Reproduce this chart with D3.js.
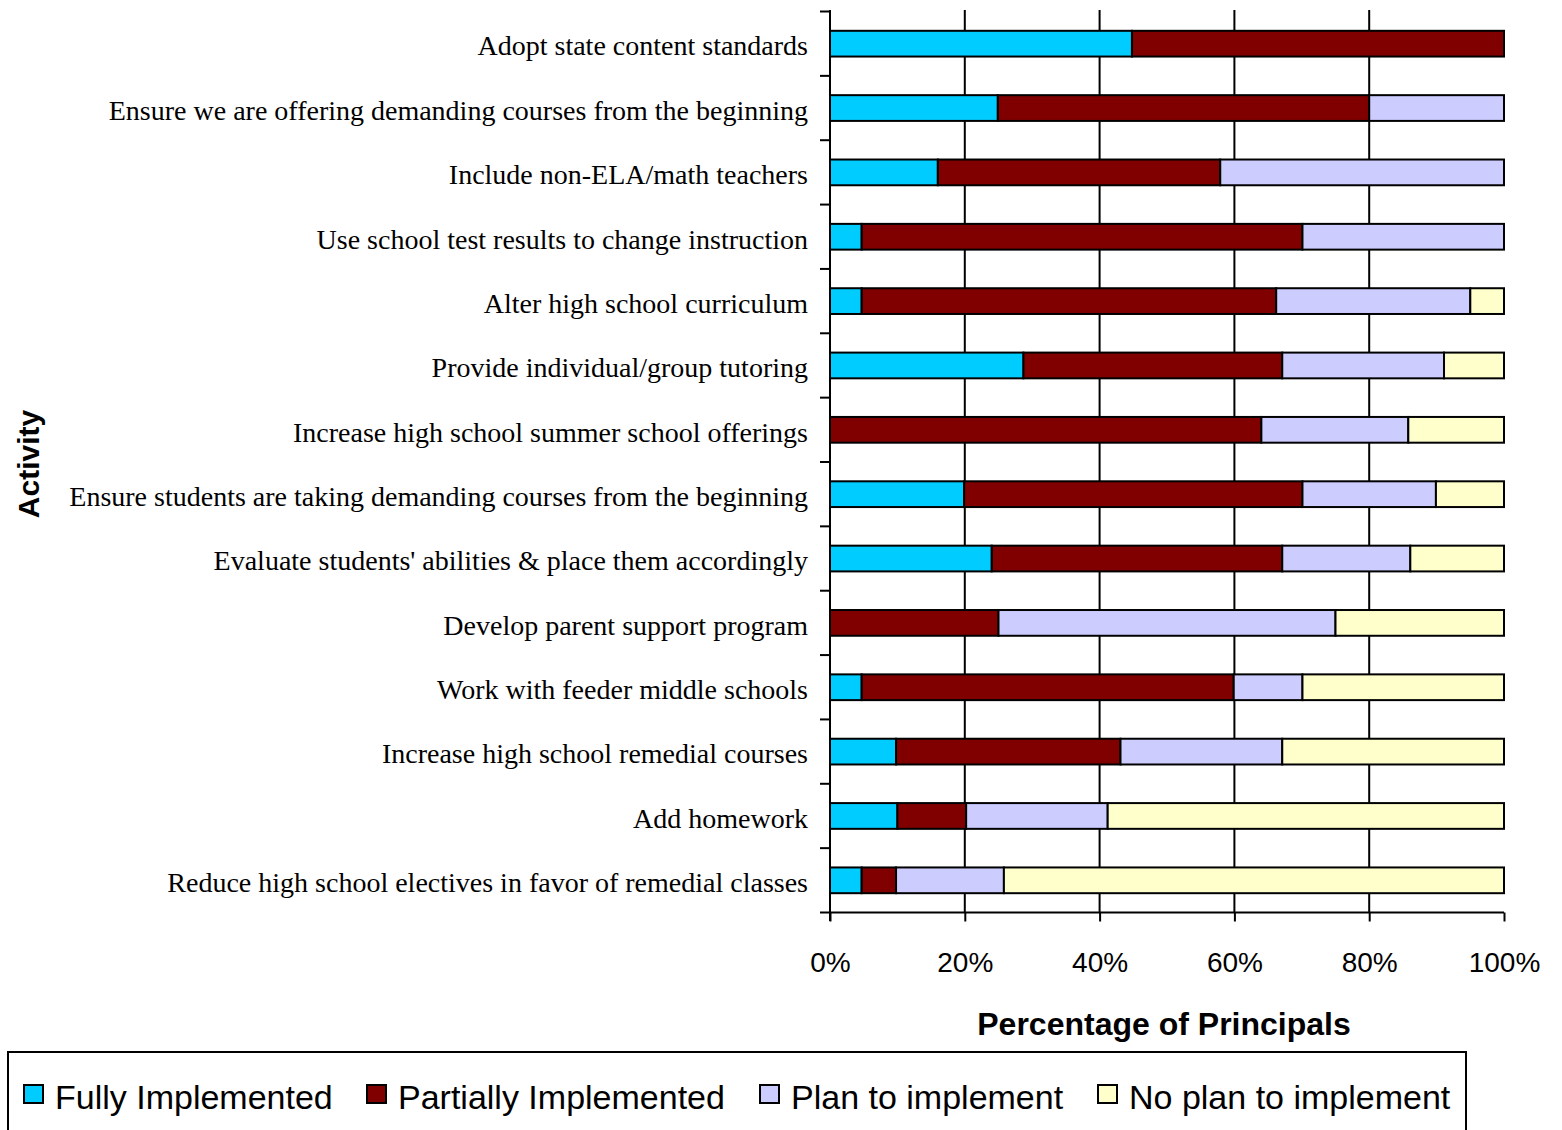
<!DOCTYPE html>
<html><head><meta charset="utf-8">
<script src="https://cdn.jsdelivr.net/npm/d3@7"></script>
<style>body{margin:0;background:#fff}svg{display:block}</style>
</head><body>
<script>
const categories = [
  "Adopt state content standards",
  "Ensure we are offering demanding courses from the beginning",
  "Include non-ELA/math teachers",
  "Use school test results to change instruction",
  "Alter high school curriculum",
  "Provide individual/group tutoring",
  "Increase high school summer school offerings",
  "Ensure students are taking demanding courses from the beginning",
  "Evaluate students' abilities & place them accordingly",
  "Develop parent support program",
  "Work with feeder middle schools",
  "Increase high school remedial courses",
  "Add homework",
  "Reduce high school electives in favor of remedial classes"
];
const seriesNames = ["Fully Implemented","Partially Implemented","Plan to implement","No plan to implement"];
const fullyImplemented     = [44.8, 24.9, 16.0,  4.7,  4.7, 28.7,  0.0, 19.9, 24.0,  0.0,  4.7,  9.8, 10.0,  4.7];
const partiallyImplemented = [55.2, 55.1, 41.9, 65.4, 61.5, 38.4, 64.0, 50.2, 43.1, 25.0, 55.2, 33.3, 10.2,  5.1];
const planToImplement      = [ 0.0, 20.0, 42.1, 29.9, 28.8, 24.0, 21.8, 19.8, 19.0, 50.0, 10.2, 24.0, 21.0, 16.0];
const noPlanToImplement    = [ 0.0,  0.0,  0.0,  0.0,  5.0,  8.9, 14.2, 10.1, 13.9, 25.0, 29.9, 32.9, 58.8, 74.2];
const xTicks = [0, 20, 40, 60, 80, 100];
const colors = ["#00CCFF","#800000","#CCCCFF","#FFFFCC"];

const W = 1562, H = 1130;
const svg = d3.select("body").append("svg").attr("width", W).attr("height", H);

const x = d3.scaleLinear().domain([0,100]).range([830,1504]);
const y = d3.scaleBand().domain(categories).range([11.5,912.5]).paddingInner(0.6).paddingOuter(0.3);

const rows = categories.map((c,i)=>({cat:c, vals:[fullyImplemented[i],partiallyImplemented[i],planToImplement[i],noPlanToImplement[i]]}));
const stackData = rows.map(r=>{const o={cat:r.cat}; seriesNames.forEach((s,j)=>o[s]=r.vals[j]); return o;});
const stacked = d3.stack().keys(seriesNames)(stackData);

// gridlines
svg.append("g").selectAll("line").data(xTicks.filter(t=>t>0&&t<100)).join("line")
  .attr("x1",d=>x(d)).attr("x2",d=>x(d)).attr("y1",10).attr("y2",912)
  .attr("stroke","#000").attr("stroke-width",2);

// bars
svg.append("g").selectAll("g").data(stacked).join("g")
  .attr("fill",(d,i)=>colors[i])
  .selectAll("rect").data(d=>d.filter(p=>p[1]-p[0]>0)).join("rect")
  .attr("x",d=>x(d[0])).attr("width",d=>x(d[1])-x(d[0]))
  .attr("y",d=>y(d.data.cat)).attr("height",y.bandwidth())
  .attr("stroke","#000").attr("stroke-width",2);

// x axis
const xAxis = svg.append("g").attr("transform","translate(0,912.5)")
  .call(d3.axisBottom(x).tickValues(xTicks).tickFormat(d=>d+"%").tickSize(9).tickPadding(31));
xAxis.select(".domain").attr("stroke-width",2).attr("d","M830,0H1504");
xAxis.selectAll(".tick line").attr("stroke-width",2);
xAxis.selectAll("text").attr("font-family","'Liberation Sans', Arial, sans-serif").attr("font-size",28).attr("fill","#000");

// y axis line and ticks at category boundaries
svg.append("line").attr("x1",830).attr("x2",830).attr("y1",10).attr("y2",921).attr("stroke","#000").attr("stroke-width",2);
const bounds = categories.map(c=>y(c)-y.step()*0.3).concat([912.5]);
svg.append("g").selectAll("line").data(bounds).join("line")
  .attr("x1",820).attr("x2",830).attr("y1",d=>d).attr("y2",d=>d)
  .attr("stroke","#000").attr("stroke-width",2);

// category labels
svg.append("g").selectAll("text").data(categories).join("text")
  .attr("x",808).attr("y",d=>y(d)+y.bandwidth()/2+2).attr("dy","0.35em")
  .attr("text-anchor","end").attr("font-family","'Liberation Serif', 'Times New Roman', serif")
  .attr("font-size",28).attr("fill","#000").text(d=>d);

// axis titles
svg.append("text").attr("x",1164).attr("y",1035).attr("text-anchor","middle")
  .attr("font-family","'Liberation Sans', Arial, sans-serif").attr("font-weight","bold").attr("font-size",32)
  .text("Percentage of Principals");
svg.append("text").attr("transform","translate(39,464) rotate(-90)").attr("text-anchor","middle")
  .attr("font-family","'Liberation Sans', Arial, sans-serif").attr("font-weight","bold").attr("font-size",30)
  .text("Activity");

// legend
svg.append("rect").attr("x",8).attr("y",1052).attr("width",1458).attr("height",100)
  .attr("fill","none").attr("stroke","#000").attr("stroke-width",2);
const legendX = [24, 367, 760, 1098];
const lg = svg.append("g").selectAll("g").data(seriesNames).join("g")
  .attr("transform",(d,i)=>`translate(${legendX[i]},1085)`);
lg.append("rect").attr("width",19).attr("height",18).attr("fill",(d,i)=>colors[i]).attr("stroke","#000").attr("stroke-width",2);
lg.append("text").attr("x",31).attr("y",12).attr("dy","0.36em")
  .attr("font-family","'Liberation Sans', Arial, sans-serif").attr("font-size",34).text(d=>d);
</script>
</body></html>
